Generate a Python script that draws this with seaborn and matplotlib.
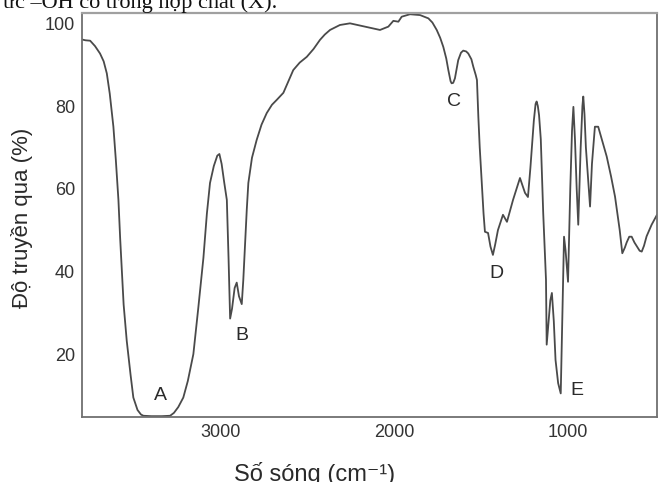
import matplotlib
matplotlib.use("Agg")
import matplotlib.pyplot as plt
from matplotlib import font_manager
import seaborn as sns
import pandas as pd

# IR spectrum: wavenumber (cm-1) -> transmittance (%)
wavenumber = [3801, 3780, 3753, 3725, 3696, 3675, 3657, 3640, 3619, 3605,
              3590, 3580, 3560, 3542, 3520, 3504, 3480, 3460, 3446, 3400,
              3340, 3292, 3270, 3245, 3216, 3190, 3158, 3130, 3100, 3080,
              3062, 3040, 3020, 3008, 2995, 2980, 2965, 2955, 2946, 2935,
              2920, 2908, 2895, 2879, 2870, 2862, 2850, 2841, 2820, 2793,
              2765, 2735, 2705, 2677, 2639, 2610, 2582, 2545, 2504, 2465,
              2428, 2400, 2370, 2313, 2255, 2178, 2082, 2034, 2005, 1976,
              1957, 1909, 1851, 1803, 1780, 1755, 1735, 1717, 1700, 1688,
              1675, 1669, 1660, 1650, 1640, 1631, 1615, 1602, 1585, 1573,
              1555, 1544, 1530, 1523, 1515, 1507, 1496, 1485, 1477, 1459,
              1445, 1431, 1418, 1402, 1373, 1350, 1315, 1275, 1246, 1229,
              1215, 1206, 1195, 1185, 1179, 1172, 1165, 1155, 1141, 1125,
              1121, 1110, 1100, 1091, 1080, 1070, 1055, 1040, 1030, 1021,
              1012, 998, 985, 975, 967, 958, 948, 939, 925, 915,
              910, 903, 895, 871, 860, 843, 824, 800, 775, 750,
              727, 700, 685, 670, 660, 645, 631, 615, 600, 585,
              573, 560, 545, 516, 485]
transmittance = [96.1, 95.9, 95.8, 94.5, 92.7, 90.8, 87.9, 83.0, 75.0, 67.0,
                 57.3, 48.0, 32.0, 23.2, 15.0, 9.5, 6.5, 5.4, 5.1, 5.0,
                 5.0, 5.1, 5.8, 7.2, 9.5, 13.5, 20.0, 31.0, 43.3, 54.0,
                 61.4, 65.5, 68.0, 68.4, 66.0, 61.5, 57.3, 43.0, 28.6, 31.0,
                 36.0, 37.3, 34.0, 32.1, 38.0, 45.0, 55.0, 61.4, 67.5, 71.8,
                 75.5, 78.3, 80.3, 81.5, 83.2, 86.0, 88.7, 90.5, 91.9, 93.8,
                 96.0, 97.3, 98.4, 99.6, 100.0, 99.3, 98.4, 99.2, 100.6, 100.4,
                 101.6, 102.2, 102.0, 101.2, 100.2, 98.4, 96.5, 94.3, 91.5, 88.7,
                 86.0, 85.5, 85.6, 86.7, 89.0, 91.1, 92.9, 93.4, 93.2, 92.7,
                 91.3, 89.5, 87.5, 86.3, 77.4, 70.0, 62.1, 54.0, 49.6, 49.3,
                 46.0, 44.0, 46.5, 50.0, 53.7, 52.0, 57.3, 62.6, 59.0, 58.0,
                 65.0, 70.1, 76.5, 80.5, 81.1, 80.0, 77.8, 72.0, 54.1, 38.0,
                 22.3, 28.0, 33.0, 34.8, 28.0, 18.6, 13.0, 10.5, 30.0, 48.4,
                 45.0, 37.5, 60.0, 74.0, 79.8, 72.0, 60.0, 51.3, 70.0, 80.0,
                 82.3, 78.0, 70.0, 55.7, 66.0, 75.0, 75.0, 71.5, 67.8, 63.0,
                 58.1, 50.0, 44.4, 45.8, 47.0, 48.4, 48.4, 47.0, 46.0, 45.0,
                 44.8, 46.2, 48.5, 51.3, 53.7]

peak_labels = ["A", "B", "C", "D", "E"]
peak_x = [3350, 2877, 1655, 1413, 947]
peak_y = [9.9, 24.4, 81.2, 39.4, 11.1]

x_ticks = [3000, 2000, 1000]
y_ticks = [20, 40, 60, 80, 100]

sns.set_theme(style="white")
plt.rcParams["font.family"] = ["Liberation Sans", "DejaVu Sans"]

installed = {f.name for f in font_manager.fontManager.ttflist}
tick_font = "Liberation Sans Narrow" if "Liberation Sans Narrow" in installed else "Liberation Sans"

df = pd.DataFrame({"wn": wavenumber, "T": transmittance})

fig = plt.figure(figsize=(6.6, 4.82), dpi=100)
ax = fig.add_axes([82 / 660, 65 / 482, 575 / 660, 404 / 482])

sns.lineplot(data=df, x="wn", y="T", sort=False, estimator=None,
             color="#4a4a4a", linewidth=1.3, ax=ax)
ax.lines[0].set_solid_joinstyle("round")

ax.set_xlim(3800, 485)
ax.set_ylim(4.8, 102.5)
ax.set_xticks(x_ticks)
ax.set_yticks(y_ticks)
ax.set_xticklabels([str(v) for v in x_ticks], fontfamily=tick_font, fontsize=13, color="#333333")
ax.set_yticklabels([str(v) for v in y_ticks], fontfamily=tick_font, fontsize=13, color="#333333")
ax.tick_params(direction="in", length=3, width=0.8, color="#999999", pad=5)

for side in ["left", "bottom", "right"]:
    ax.spines[side].set_color("#707070")
    ax.spines[side].set_linewidth(1.3)
ax.spines["top"].set_color("#a0a0a0")
ax.spines["top"].set_linewidth(1.6)

for lab, px, py in zip(peak_labels, peak_x, peak_y):
    ax.text(px, py, lab, fontsize=14, color="#2a2a2a", ha="center", va="center")

ax.set_xlabel("Số sóng (cm⁻¹)", fontsize=17, color="#2a2a2a")
ax.set_ylabel("Độ truyền qua (%)", fontsize=16, color="#2a2a2a")
ax.xaxis.set_label_coords(0.405, -0.14)
ax.yaxis.set_label_coords(-0.104, 0.493)
ax.xaxis.label.set_va("center")
ax.yaxis.label.set_va("center")

# cut-off line of page text above the figure
fig.text(3 / 660, 1 - 8 / 482, "ức –OH có trong hợp chất (X).",
         fontfamily=["Liberation Serif", "DejaVu Serif"], fontsize=16,
         color="#111111", va="baseline", ha="left")

fig.savefig("out.png", dpi=100)
